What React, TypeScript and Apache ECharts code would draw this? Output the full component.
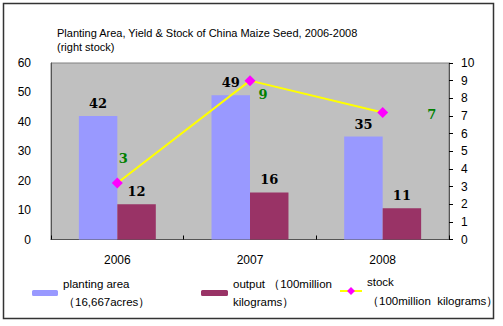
import React, { useEffect, useRef } from "react";
import * as echarts from "echarts";

const categories = ["2006", "2007", "2008"];
const plantingArea = [42, 49, 35];
const output = [12, 16, 10.6];
const stock = [3.2, 9, 7.2];
const seriesNames = [
  "planting area\n（16,667acres）",
  "output （100million\nkilograms）",
  "stock\n（100million  kilograms）",
];
const titleText = "Planting Area, Yield & Stock of China Maize Seed, 2006-2008\n(right stock)";

export default function App() {
  const ref = useRef<HTMLDivElement>(null);
  useEffect(() => {
    if (!ref.current) return;
    const chart = echarts.init(ref.current, undefined, { renderer: "svg" });
    const barLabel = {
      show: true,
      position: "top",
      distance: 6,
      color: "#000",
      fontFamily: "DejaVu Serif",
      fontWeight: "bold",
      fontSize: 13,
      formatter: (p: any) => String(Math.round(p.value)),
    };
    const stockLabelPos: any[] = [
      { position: "top", offset: [6, -8] },
      { position: "right", offset: [-2, 14] },
      { position: "right", offset: [34, 2] },
    ];
    const legendText = { fontFamily: "Liberation Sans", fontSize: 11.5, color: "#000", lineHeight: 18 };
    chart.setOption({
      animation: false,
      backgroundColor: "#fff",
      title: {
        text: titleText,
        left: 52,
        top: 21,
        textStyle: {
          fontFamily: "Liberation Sans",
          fontSize: 11,
          fontWeight: "normal",
          color: "#000",
          lineHeight: 14,
        },
      },
      graphic: [
        {
          type: "rect",
          shape: { x: 3.5, y: 3.5, width: 490, height: 315 },
          style: { fill: "none", stroke: "#333", lineWidth: 1.5 },
          z: 100,
        },
      ],
      grid: {
        left: 51,
        right: 54,
        top: 63,
        bottom: 86.5,
        show: true,
        backgroundColor: "#c0c0c0",
        borderColor: "#808080",
        borderWidth: 1,
      },
      legend: [
        {
          data: [seriesNames[0]],
          left: 32,
          top: 275,
          padding: 0,
          itemWidth: 26,
          itemHeight: 6,
          textStyle: legendText,
        },
        {
          data: [seriesNames[1]],
          left: 201,
          top: 275,
          padding: 0,
          itemWidth: 27,
          itemHeight: 6,
          textStyle: legendText,
        },
        {
          data: [seriesNames[2]],
          left: 339,
          top: 272,
          padding: 0,
          itemWidth: 22,
          itemHeight: 10,
          textStyle: { ...legendText, lineHeight: 19 },
        },
      ],
      xAxis: {
        type: "category",
        data: categories,
        boundaryGap: true,
        axisLine: { lineStyle: { color: "#555" } },
        axisTick: { show: true, inside: true, length: 4, lineStyle: { color: "#000" } },
        axisLabel: { margin: 14, fontFamily: "Liberation Sans", fontSize: 12, color: "#000" },
      },
      yAxis: [
        {
          type: "value",
          min: 0,
          max: 60,
          interval: 10,
          splitLine: { show: false },
          axisLine: { show: true, lineStyle: { color: "#555" } },
          axisTick: { show: false },
          axisLabel: { margin: 20, fontFamily: "Liberation Sans", fontSize: 12, color: "#000" },
        },
        {
          type: "value",
          min: 0,
          max: 10,
          interval: 1,
          position: "right",
          splitLine: { show: false },
          axisLine: { show: true, lineStyle: { color: "#555" } },
          axisTick: { show: true, length: 4, lineStyle: { color: "#000" } },
          axisLabel: { margin: 12, fontFamily: "Liberation Sans", fontSize: 12, color: "#000" },
        },
      ],
      series: [
        {
          name: seriesNames[0],
          type: "bar",
          data: plantingArea,
          barWidth: "29%",
          barGap: "0%",
          itemStyle: { color: "#9999ff" },
          label: barLabel,
        },
        {
          name: seriesNames[1],
          type: "bar",
          data: output,
          barWidth: "29%",
          barGap: "0%",
          itemStyle: { color: "#993366" },
          label: barLabel,
        },
        {
          name: seriesNames[2],
          type: "line",
          yAxisIndex: 1,
          data: stock.map((v, i) => ({ value: v, label: stockLabelPos[i] })),
          symbol: "diamond",
          symbolSize: 11,
          lineStyle: { color: "#ffff00", width: 2 },
          itemStyle: { color: "#ff00ff" },
          label: {
            show: true,
            color: "#008000",
            fontFamily: "DejaVu Serif",
            fontWeight: "bold",
            fontSize: 13,
            formatter: (p: any) => String(Math.round(p.value)),
          },
          z: 5,
        },
      ],
    });
    return () => chart.dispose();
  }, []);
  return (
    <div
      ref={ref}
      style={{ position: "fixed", left: 0, top: 0, width: 503, height: 326 }}
    />
  );
}
